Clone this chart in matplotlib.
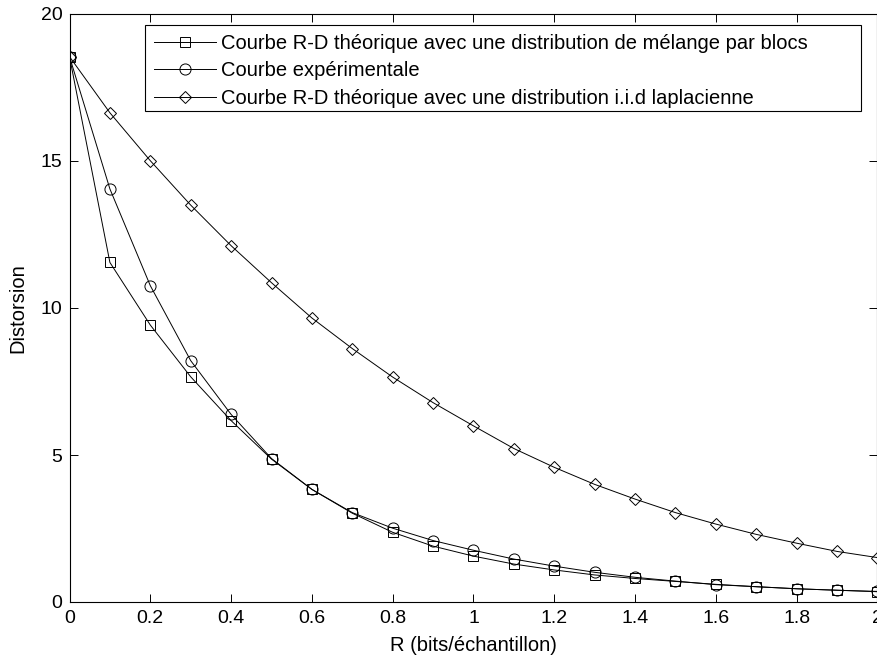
import numpy as np
import matplotlib
matplotlib.use("Agg")
import matplotlib.pyplot as plt
from matplotlib.patches import Rectangle

plt.rcParams['font.family'] = ['Liberation Sans', 'DejaVu Sans']

rate = [0.0, 0.1, 0.2, 0.3, 0.4, 0.5, 0.6, 0.7, 0.8, 0.9, 1.0,
        1.1, 1.2, 1.3, 1.4, 1.5, 1.6, 1.7, 1.8, 1.9, 2.0]

# R-D theorique, melange par blocs
d_blocs = [18.55, 11.55, 9.42, 7.66, 6.17, 4.86, 3.83, 3.02, 2.37, 1.90, 1.56,
           1.29, 1.09, 0.92, 0.80, 0.70, 0.60, 0.52, 0.45, 0.40, 0.35]
# experimental
d_exp = [18.55, 14.05, 10.76, 8.21, 6.38, 4.88, 3.83, 3.04, 2.51, 2.09, 1.76,
         1.46, 1.22, 1.01, 0.84, 0.71, 0.59, 0.52, 0.45, 0.40, 0.36]
# R-D theorique, iid laplacienne
d_lap = [18.55, 16.64, 15.01, 13.50, 12.12, 10.86, 9.66, 8.62, 7.65, 6.78, 5.99,
         5.22, 4.58, 4.00, 3.50, 3.04, 2.65, 2.30, 2.00, 1.72, 1.51]

labels = ["Courbe R-D théorique avec une distribution de mélange par blocs",
          "Courbe expérimentale",
          "Courbe R-D théorique avec une distribution i.i.d laplacienne"]

W, H = 878, 657
fig = plt.figure(figsize=(W / 100, H / 100), dpi=100)
ax = fig.add_axes([69.5 / W, 1 - 602 / H, (877.5 - 69.5) / W, (602 - 14) / H])

ax.plot(rate, d_blocs, color='black', lw=0.7, marker='s', ms=7,
        mfc='none', mec='black', mew=0.7, label=labels[0])
ax.plot(rate, d_exp, color='black', lw=0.7, marker='o', ms=8,
        mfc='none', mec='black', mew=0.7, label=labels[1])
ax.plot(rate, d_lap, color='black', lw=0.7, marker='D', ms=5.8,
        mfc='none', mec='black', mew=0.7, label=labels[2])

ax.set_xlim(0, 2)
ax.set_ylim(0, 20)
ax.set_xticks(np.arange(0, 2.01, 0.2))
ax.set_xticklabels(['0', '0.2', '0.4', '0.6', '0.8', '1', '1.2', '1.4', '1.6', '1.8', '2'])
ax.set_yticks([0, 5, 10, 15, 20])
ax.tick_params(direction='in', top=True, right=True, labelsize=14, length=6, width=0.7)
ax.tick_params(axis='x', pad=6)
ax.tick_params(axis='y', pad=5)
for s in ax.spines.values():
    s.set_linewidth(0.8)

ax.set_xlabel("R (bits/échantillon)", fontsize=14.5)
ax.set_ylabel("Distorsion", fontsize=14.5)
ax.xaxis.set_label_coords(0.5, -0.058)
ax.yaxis.set_label_coords(-0.052, 0.5)

# legend frame drawn by hand (MATLAB-style box wider than the text)
ax.add_patch(Rectangle((145 / W, 1 - 111 / H), (861 - 145) / W, (111 - 25) / H,
                       transform=fig.transFigure, facecolor='white',
                       edgecolor='black', lw=0.8, zorder=4, clip_on=False))
leg = ax.legend(loc='upper left', bbox_to_anchor=(145 / W, 1 - 25 / H),
                bbox_transform=fig.transFigure, fontsize=14.5, frameon=False,
                handlelength=3.1, handletextpad=0.26, borderpad=0.43,
                labelspacing=0.43, borderaxespad=0)
leg.set_zorder(5)

fig.savefig("out.png", dpi=100)
